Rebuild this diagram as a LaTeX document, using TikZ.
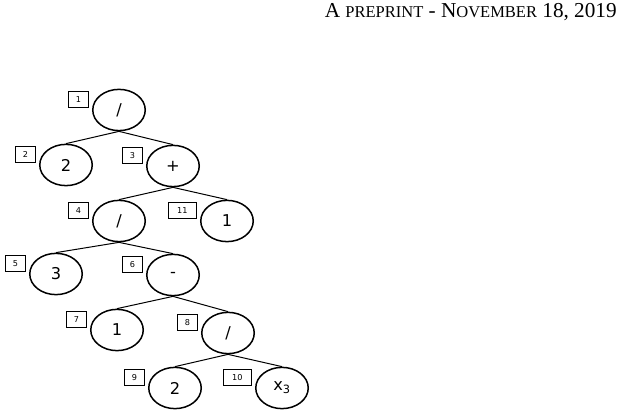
\documentclass[tikz,border=0pt]{standalone}
\usepackage{fontspec}
\setmainfont{Liberation Serif}
\newfontfamily\treefont{DejaVu Sans}
\usetikzlibrary{positioning, shapes.geometric}

\begin{document}
\begin{tikzpicture}[
  x=0.8pt, y=-0.8pt,
  op/.style={ellipse, draw, line width=1.2pt, minimum width=42pt, minimum height=33pt, inner sep=0pt, font=\treefont\fontsize{13}{13}\selectfont},
  tag/.style={draw, line width=0.6pt, minimum width=15.5pt, minimum height=13.5pt, inner sep=1pt, font=\treefont\fontsize{6.5}{6.5}\selectfont},
  tagwide/.style={tag, minimum width=22pt},
  edge/.style={line width=0.8pt}
]
\useasboundingbox (0,0) rectangle (630,417);

% Header
\node[anchor=base east, inner sep=0pt, font=\fontsize{17}{17}\selectfont] (head) at (617,18)
  {A {\fontsize{13.2}{13.2}\selectfont PREPRINT} - N{\fontsize{13.2}{13.2}\selectfont OVEMBER} 18, 2019};

% Nodes
\node[op] (n1) at (119,110) {/};
\node[op] (n2) at (66,165) {2};
\node[op] (n3) at (173,166) {+};
\node[op] (n4) at (119,221) {/};
\node[op] (n11) at (227,221) {1};
\node[op] (n5) at (56,274) {3};
\node[op] (n6) at (173,275) {-};
\node[op] (n7) at (117,330) {1};
\node[op] (n8) at (228,333) {/};
\node[op] (n9) at (175,388) {2};
\node[op] (n10) at (282,388) {x\textsubscript{3}};

% Numbering boxes
\node[tag, left=2.8pt of n1.west, yshift=8.5pt] (t1) {1};
\node[tag, left=2.8pt of n2.west, yshift=8.5pt] (t2) {2};
\node[tag, left=2.8pt of n3.west, yshift=8.5pt] (t3) {3};
\node[tag, left=2.8pt of n4.west, yshift=8.5pt] (t4) {4};
\node[tag, left=2.8pt of n5.west, yshift=8.5pt] (t5) {5};
\node[tag, left=2.8pt of n6.west, yshift=8.5pt] (t6) {6};
\node[tag, left=2.8pt of n7.west, yshift=8.5pt] (t7) {7};
\node[tag, left=2.8pt of n8.west, yshift=8.5pt] (t8) {8};
\node[tag, left=2.8pt of n9.west, yshift=8.5pt] (t9) {9};
\node[tagwide, left=2.8pt of n10.west, yshift=8.5pt] (t10) {10};
\node[tagwide, left=2.8pt of n11.west, yshift=8.5pt] (t11) {11};

% Edges
\draw[edge] (n1.south) -- (n2.north);
\draw[edge] (n1.south) -- (n3.north);
\draw[edge] (n3.south) -- (n4.north);
\draw[edge] (n3.south) -- (n11.north);
\draw[edge] (n4.south) -- (n5.north);
\draw[edge] (n4.south) -- (n6.north);
\draw[edge] (n6.south) -- (n7.north);
\draw[edge] (n6.south) -- (n8.north);
\draw[edge] (n8.south) -- (n9.north);
\draw[edge] (n8.south) -- (n10.north);

\end{tikzpicture}
\end{document}
